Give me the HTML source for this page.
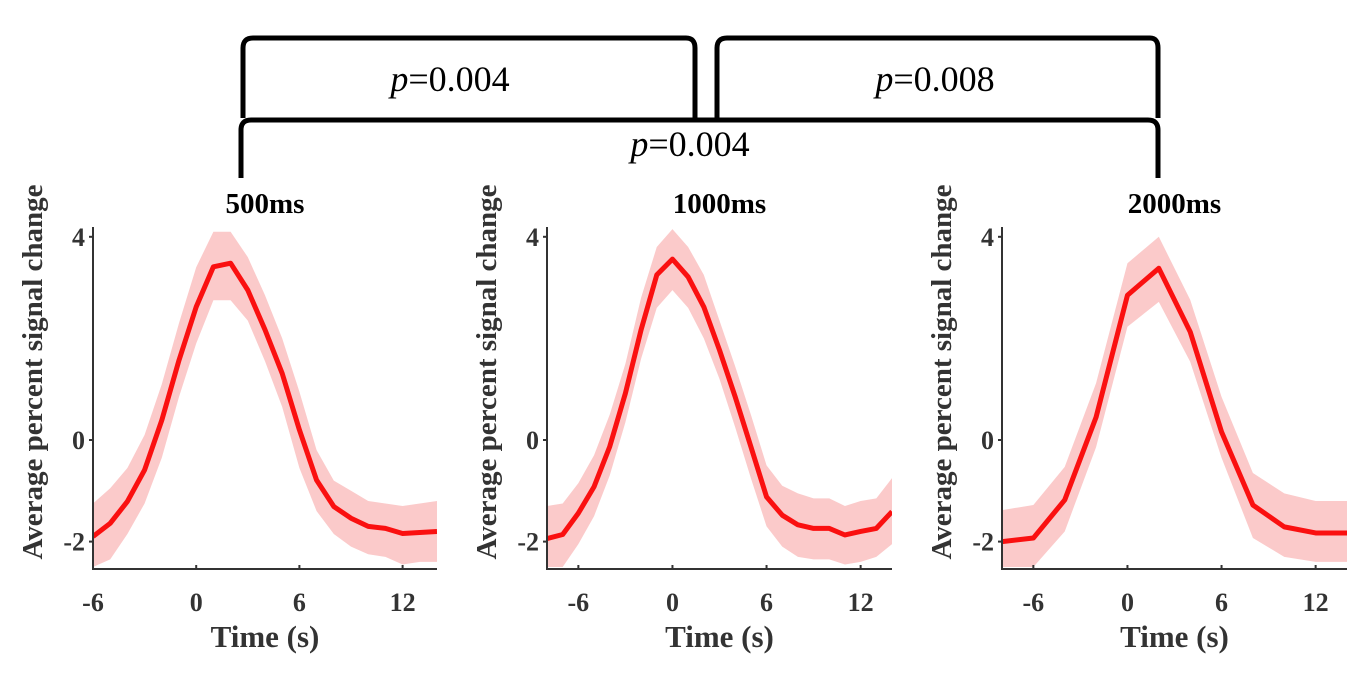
<!DOCTYPE html>
<html><head><meta charset="utf-8"><style>
body{margin:0;background:#fff;width:1352px;height:670px;overflow:hidden}
svg text{font-family:"Liberation Serif",serif}
</style></head><body>
<svg id="chart" width="1352" height="670" viewBox="0 0 1352 670" xmlns="http://www.w3.org/2000/svg">
<g fill="none" stroke="#000" stroke-width="5">
<path d="M243,118 L243,48 Q243,38 253,38 L686,38 Q695,38 695,48 L695,118"/>
<path d="M717,118 L717,48 Q717,38 727,38 L1150,38 Q1158,38 1158,48 L1158,118"/>
<path d="M241,178 L241,130 Q241,120 251,120 L1148,120 Q1158,120 1158,130 L1158,178"/>
</g>
<text x="450" y="91" font-size="36" text-anchor="middle"><tspan font-style="italic">p</tspan>=0.004</text>
<text x="935" y="91" font-size="36" text-anchor="middle"><tspan font-style="italic">p</tspan>=0.008</text>
<text x="690" y="156" font-size="36" text-anchor="middle"><tspan font-style="italic">p</tspan>=0.004</text>
</svg>
<script>
const titles=["500ms","1000ms","2000ms"];
const yTicks=[4,0,-2];
const xTicks=[-6,0,6,12];
const t500=[-6,-5,-4,-3,-2,-1,0,1,2,3,4,5,6,7,8,9,10,11,12,13,14];
const m500=[-1.9,-1.64,-1.21,-0.59,0.39,1.57,2.62,3.41,3.48,2.95,2.17,1.31,0.2,-0.79,-1.31,-1.54,-1.7,-1.74,-1.84,-1.82,-1.8];
const u500=[-1.25,-0.95,-0.55,0.1,1.1,2.3,3.4,4.1,4.1,3.6,2.85,2.0,0.95,-0.2,-0.8,-1.0,-1.2,-1.25,-1.3,-1.25,-1.2];
const l500=[-2.5,-2.35,-1.85,-1.25,-0.35,0.85,1.9,2.75,2.75,2.35,1.55,0.65,-0.55,-1.4,-1.85,-2.1,-2.25,-2.3,-2.45,-2.4,-2.4];
const t1000=[-8,-7,-6,-5,-4,-3,-2,-1,0,1,2,3,4,5,6,7,8,9,10,11,12,13,14];
const m1000=[-1.94,-1.86,-1.44,-0.92,-0.13,0.92,2.17,3.25,3.56,3.21,2.62,1.77,0.85,-0.13,-1.12,-1.48,-1.67,-1.74,-1.74,-1.87,-1.8,-1.74,-1.41];
const u1000=[-1.3,-1.25,-0.85,-0.3,0.5,1.5,2.8,3.8,4.15,3.8,3.25,2.35,1.45,0.5,-0.5,-0.9,-1.05,-1.15,-1.15,-1.3,-1.2,-1.15,-0.75];
const l1000=[-2.5,-2.5,-2.05,-1.5,-0.7,0.35,1.6,2.6,2.95,2.6,2.0,1.2,0.25,-0.75,-1.7,-2.1,-2.3,-2.35,-2.35,-2.45,-2.4,-2.3,-2.05];
const t2000=[-8,-6,-4,-2,0,2,4,6,8,10,12,14];
const m2000=[-2.0,-1.93,-1.18,0.45,2.85,3.38,2.13,0.16,-1.28,-1.71,-1.83,-1.83];
const u2000=[-1.38,-1.28,-0.53,1.12,3.48,4.0,2.76,0.85,-0.65,-1.05,-1.2,-1.2];
const l2000=[-2.5,-2.5,-1.8,-0.14,2.23,2.72,1.54,-0.35,-1.93,-2.3,-2.4,-2.4];

const NS="http://www.w3.org/2000/svg";
const svgEl=document.getElementById('chart');
function mk(tag,attrs,parent){const e=document.createElementNS(NS,tag);for(const k in attrs)e.setAttribute(k,attrs[k]);(parent||svgEl).appendChild(e);return e;}
const panels=[
 {left:93,right:437,x0:-6,x1:14,t:t500,m:m500,u:u500,l:l500,key:'500'},
 {left:547,right:892,x0:-8,x1:14,t:t1000,m:m1000,u:u1000,l:l1000,key:'1000'},
 {left:1002,right:1347,x0:-8,x1:14,t:t2000,m:m2000,u:u2000,l:l2000,key:'2000'}
];
const plotTop=227,plotBottom=569;
panels.forEach((p,i)=>{
 const g=mk('g',{});
 
 
 const X=v=>p.left+(v-p.x0)/(p.x1-p.x0)*(p.right-p.left);
 const Y=v=>440-v*50.8;
 const cid='clip'+i;
 const cp=mk('clipPath',{id:cid},g);
 mk('rect',{x:p.left,y:plotTop,width:p.right-p.left,height:plotBottom-plotTop},cp);
 let d='';
 p.t.forEach((t,j)=>{d+=(j?'L':'M')+X(t)+','+Y(p.u[j]);});
 for(let j=p.t.length-1;j>=0;j--)d+='L'+X(p.t[j])+','+Y(p.l[j]);
 const band=mk('path',{d:d+'Z',fill:'#fbcaca','clip-path':'url(#'+cid+')'},g);
 
 
 const pts=p.t.map((t,j)=>X(t)+','+Y(p.m[j])).join(' ');
 const line=mk('polyline',{points:pts,fill:'none',stroke:'#fa1010','stroke-width':5,'stroke-linejoin':'round','clip-path':'url(#'+cid+')'},g);
 
 
 const ax=mk('path',{d:`M${p.left},${plotTop} L${p.left},${plotBottom} L${p.right},${plotBottom}`,fill:'none',stroke:'#333','stroke-width':2},g);
 
 
 yTicks.forEach(v=>{
  mk('line',{x1:p.left-4,x2:p.left,y1:Y(v),y2:Y(v),stroke:'#333','stroke-width':2},g);
  const tx=mk('text',{x:p.left-8,y:Y(v)+9,'font-size':26,'font-weight':'bold','text-anchor':'end',fill:'#333'},g);
  tx.textContent=v;
  
  
 });
 xTicks.forEach(v=>{
  mk('line',{x1:X(v),x2:X(v),y1:plotBottom,y2:plotBottom-4,stroke:'#333','stroke-width':2},g);
  const tx=mk('text',{x:X(v),y:611,'font-size':26,'font-weight':'bold','text-anchor':'middle',fill:'#333'},g);
  tx.textContent=v;
  
  
 });
 const cx=(p.left+p.right)/2;
 const ti=mk('text',{x:cx,y:213,'font-size':29,'font-weight':'bold','text-anchor':'middle'},g);
 ti.textContent=titles[i];
 
 
 const xt=mk('text',{x:cx,y:647,'font-size':31,'font-weight':'bold','text-anchor':'middle',fill:'#333'},g);
 xt.textContent='Time (s)';
 
 
 const yx=p.left-51, yy=372;
 const yt=mk('text',{x:yx,y:yy,'font-size':29,'font-weight':'bold','text-anchor':'middle',fill:'#333',transform:`rotate(-90 ${yx} ${yy})`},g);
 yt.textContent='Average percent signal change';
 
 
});
</script>
</body></html>
